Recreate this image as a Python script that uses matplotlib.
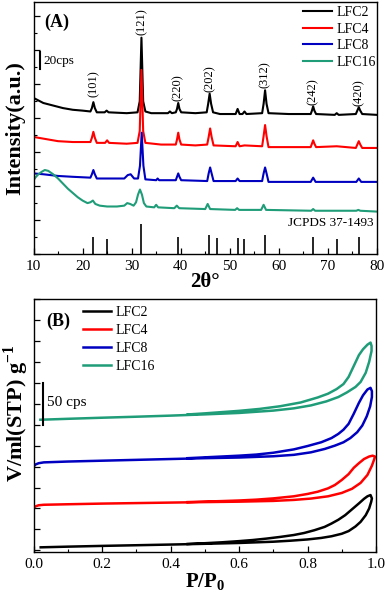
import matplotlib
matplotlib.use("Agg")
import matplotlib.pyplot as plt
from matplotlib.ticker import MultipleLocator

plt.rcParams['font.family'] = ['Liberation Serif', 'DejaVu Serif']
plt.rcParams['mathtext.fontset'] = 'custom'
plt.rcParams['mathtext.rm'] = 'Liberation Serif'
plt.rcParams['mathtext.bf'] = 'Liberation Serif:bold'

samples = ['LFC2', 'LFC4', 'LFC8', 'LFC16']
colors = ['#000000', '#ff0000', '#0000c0', '#1f9c78']

# ---- (A) XRD patterns, 2theta vs intensity (cps, stacked) ----
xrd_lfc2 = [(10, 184), (11, 181), (12, 178), (14, 175), (16, 172), (18, 170), (20, 169),
            (21.6, 168), (21.9, 172), (22.2, 179), (22.5, 172), (22.9, 167), (24.5, 167),
            (24.9, 169), (25.3, 167), (29, 166), (31.2, 167), (31.65, 180), (32.0, 255),
            (32.35, 180), (32.8, 168), (34, 166), (37.4, 166), (37.8, 168), (38.2, 166),
            (39.0, 167), (39.25, 171), (39.5, 178), (39.75, 171), (40.1, 167), (43, 166),
            (45.3, 167), (45.6, 177), (45.9, 189), (46.2, 177), (46.6, 167), (48, 165),
            (51.2, 165), (51.6, 171), (52.0, 165), (52.6, 165), (53.0, 168), (53.4, 165),
            (56.6, 166), (56.9, 177), (57.2, 193), (57.5, 177), (57.9, 166), (62, 165),
            (66.5, 165), (66.75, 169), (67.0, 174), (67.25, 169), (67.6, 165), (71.4, 164),
            (71.8, 166), (72.2, 164), (75.7, 165), (76.0, 169), (76.3, 173), (76.6, 169),
            (77.0, 165), (80, 164)]
xrd_lfc4 = [(10, 138), (12, 136), (15, 133), (18, 132), (21.6, 132), (21.9, 137), (22.2, 144),
            (22.5, 137), (22.9, 131), (24.6, 131), (25.0, 134), (25.4, 131), (29, 130),
            (31.2, 131), (31.65, 145), (32.0, 217), (32.35, 145), (32.8, 131), (36, 129),
            (39.0, 129), (39.25, 135), (39.5, 143), (39.75, 135), (40.1, 129), (43, 128),
            (45.4, 129), (45.7, 138), (46.0, 148), (46.3, 138), (46.7, 128), (51.2, 127),
            (51.6, 132), (52.0, 127), (53, 128), (56.6, 127), (56.9, 139), (57.2, 152),
            (57.5, 139), (57.9, 126), (62, 126), (66.5, 126), (66.75, 130), (67.0, 134),
            (67.25, 130), (67.6, 126), (71.8, 127), (75.7, 125), (76.0, 129), (76.3, 133),
            (76.6, 129), (77.0, 125), (80, 125)]
xrd_lfc8 = [(10, 95), (12, 94), (15, 92), (18, 91), (21.6, 90), (21.9, 94), (22.2, 99),
            (22.5, 94), (22.9, 89), (25, 89), (28.5, 89), (29.2, 93), (29.8, 94), (30.5, 89),
            (31.3, 89), (31.7, 104), (32.05, 143), (32.4, 104), (32.8, 88), (35, 87),
            (35.3, 89), (35.6, 87), (39.0, 87), (39.25, 91), (39.5, 95), (39.75, 91),
            (40.1, 87), (45.4, 86), (45.7, 95), (46.0, 102), (46.3, 95), (46.7, 86),
            (51.2, 86), (51.6, 89), (52.0, 86), (56.6, 86), (56.9, 95), (57.2, 102),
            (57.5, 95), (57.9, 85), (66.5, 85), (67.0, 90), (67.5, 85), (75.8, 85),
            (76.3, 89), (76.8, 85), (80, 85)]
xrd_lfc16 = [(10, 87), (10.5, 91), (11, 94), (11.7, 97), (12.3, 99), (13, 98), (14, 94),
             (15, 89), (16, 83), (17, 77), (18, 72), (19, 67), (20, 63), (21, 60), (21.6, 61),
             (22.1, 63), (22.6, 59), (23.5, 57), (25, 56), (27, 56), (28.5, 57), (29.1, 60),
             (29.7, 59), (30.4, 57), (30.9, 61), (31.3, 70), (31.7, 76), (32.1, 70),
             (32.5, 60), (33, 56), (34.6, 55), (35.0, 58), (35.4, 55), (38.7, 54), (39.2, 57),
             (39.7, 54), (45.0, 53), (45.5, 59), (46.0, 53), (51.1, 52), (51.5, 54),
             (51.9, 52), (56.4, 52), (56.9, 58), (57.4, 52), (66.6, 51), (67.0, 53),
             (67.4, 51), (75.8, 51), (76.2, 52), (76.6, 51), (80, 50)]
xrd_data = [xrd_lfc2, xrd_lfc4, xrd_lfc8, xrd_lfc16]

hkl_labels = ['(101)', '(121)', '(220)', '(202)', '(312)', '(242)', '(420)']
hkl_pos = [22.2, 32.0, 39.5, 45.9, 57.2, 67.0, 76.3]
hkl_y = [185, 258, 180, 191, 196, 176, 175]

# JCPDS 37-1493 reference lines
ref_pos = [22.2, 24.9, 32.0, 39.4, 45.8, 47.3, 51.6, 52.9, 57.1, 67.0, 71.8, 76.3]
ref_int = [20, 17.5, 35, 20, 22, 19, 19, 17.5, 23, 20, 17.5, 20]

# ---- (B) N2 isotherms, P/P0 vs V (stacked): adsorption then desorption ----
bet_lfc2 = [(0.021, 3.6), (0.1, 4.4), (0.2, 5.3), (0.3, 6.1), (0.4, 6.9), (0.5, 7.8),
            (0.6, 8.8), (0.7, 10.3), (0.75, 11.5), (0.8, 13), (0.84, 14.8), (0.87, 16.8),
            (0.9, 19.8), (0.92, 23), (0.94, 28.5), (0.955, 34), (0.97, 42), (0.98, 50),
            (0.986, 58), (0.988, 62), (0.984, 66), (0.975, 64.5), (0.965, 61.5),
            (0.95, 56), (0.93, 49), (0.91, 42), (0.89, 36.5), (0.87, 32), (0.85, 28),
            (0.82, 24), (0.79, 20.7), (0.76, 18.3), (0.72, 16), (0.68, 14), (0.64, 12.3),
            (0.6, 11), (0.55, 9.6), (0.5, 8.5), (0.45, 7.6)]
bet_lfc4 = [(0.0, 50.3), (0.006, 52.5), (0.015, 53.8), (0.03, 54.4), (0.1, 55), (0.2, 55.8),
            (0.3, 56.4), (0.4, 57), (0.5, 57.6), (0.6, 58.1), (0.7, 59), (0.76, 60.2),
            (0.81, 61.8), (0.86, 64.5), (0.9, 68.5), (0.93, 73.5), (0.955, 80.5),
            (0.975, 90), (0.988, 101), (0.995, 109), (0.997, 112), (0.99, 113),
            (0.98, 112), (0.965, 109), (0.95, 104), (0.935, 98.5), (0.92, 91), (0.9, 84),
            (0.88, 78), (0.86, 74), (0.83, 70), (0.8, 67.3), (0.76, 64.5), (0.7, 62),
            (0.65, 60.5), (0.6, 59.5), (0.55, 58.8), (0.5, 58.2), (0.45, 57.6)]
bet_lfc8 = [(0.0, 100), (0.006, 102.5), (0.015, 104), (0.03, 105), (0.1, 106), (0.2, 107),
            (0.3, 108), (0.4, 109), (0.5, 110), (0.6, 110.8), (0.7, 112.3), (0.76, 114),
            (0.81, 117), (0.85, 121), (0.88, 125), (0.905, 129), (0.925, 134), (0.945, 141),
            (0.96, 149), (0.973, 160), (0.983, 172), (0.988, 183), (0.988, 190),
            (0.984, 194), (0.975, 192), (0.962, 185), (0.95, 176), (0.935, 163),
            (0.92, 151), (0.905, 144), (0.89, 139), (0.87, 134), (0.84, 129), (0.8, 124.5),
            (0.76, 120.5), (0.7, 116.5), (0.65, 114.3), (0.6, 113), (0.55, 112),
            (0.5, 111), (0.45, 110)]
bet_lfc16 = [(0.02, 155.9), (0.1, 157), (0.2, 158.3), (0.3, 159.5), (0.4, 160.8),
             (0.5, 162.3), (0.6, 164), (0.7, 166.8), (0.76, 169.5), (0.81, 173),
             (0.855, 177.8), (0.89, 183), (0.915, 188.5), (0.94, 195), (0.955, 201),
             (0.97, 212), (0.98, 225), (0.987, 238), (0.987, 244), (0.984, 248),
             (0.975, 245.5), (0.962, 240), (0.95, 233), (0.935, 220), (0.92, 207),
             (0.905, 198.5), (0.885, 192.5), (0.86, 187), (0.83, 182.5), (0.78, 176.5),
             (0.72, 172), (0.66, 168.8), (0.6, 166.5), (0.55, 165), (0.5, 163.5),
             (0.45, 162.2)]
bet_data = [bet_lfc2, bet_lfc4, bet_lfc8, bet_lfc16]

fig = plt.figure(figsize=(3.87, 5.96), dpi=100)
axA = fig.add_axes([0.0866, 0.5738, 0.8874, 0.4228])
axB = fig.add_axes([0.0866, 0.0738, 0.8850, 0.4245])

for ax in (axA, axB):
    for sp in ax.spines.values():
        sp.set_linewidth(1.0)
    ax.tick_params(which='both', direction='in', top=False, right=False, labelsize=11, pad=4)
    ax.tick_params(which='major', length=4, width=0.9)
    ax.tick_params(which='minor', length=2.5, width=0.8)

# panel A
for pts, c, lab in zip(xrd_data, colors, samples):
    axA.plot([p[0] for p in pts], [p[1] for p in pts], color=c, lw=1.5, label=lab,
             solid_joinstyle='round')
axA.vlines(ref_pos, 0, ref_int, color='black', lw=1.2)
for lab, x, y in zip(hkl_labels, hkl_pos, hkl_y):
    axA.text(x, y, lab, rotation=90, ha='center', va='bottom', fontsize=9)
axA.text(79.3, 37, 'JCPDS 37-1493', ha='right', va='center', fontsize=9.5)
axA.plot([11.3, 11.3], [218, 238], color='black', lw=1.5)
axA.text(12.0, 228, '20cps', ha='left', va='center', fontsize=9.5)
axA.text(0.031, 0.919, '(A)', transform=axA.transAxes, fontsize=13, fontweight='bold',
         ha='left', va='center')
axA.set_xlim(10, 80)
axA.set_ylim(0, 297)
axA.xaxis.set_major_locator(MultipleLocator(10))
axA.xaxis.set_minor_locator(MultipleLocator(5))
axA.yaxis.set_major_locator(MultipleLocator(40))
axA.yaxis.set_minor_locator(MultipleLocator(20))
axA.set_yticklabels([])
axA.set_xlabel('2θ°', fontsize=15, fontweight='bold')
axA.xaxis.set_label_coords(0.5, -0.111)
axA.xaxis.label.set_va('center')
axA.set_ylabel('Intensity(a.u.)', fontsize=16, fontweight='bold')
axA.yaxis.set_label_coords(-0.054, 0.5)
axA.yaxis.label.set_va('center')
axA.legend(loc='upper left', bbox_to_anchor=(0.784, 0.983), frameon=False, fontsize=10,
           handlelength=2.1, handletextpad=0.3, labelspacing=0.25, borderpad=0,
           borderaxespad=0)

# panel B
for pts, c, lab in zip(bet_data, colors, samples):
    axB.plot([p[0] for p in pts], [p[1] for p in pts], color=c, lw=1.8, label=lab,
             solid_joinstyle='round')
axB.plot([0.029, 0.029], [150, 200], color='black', lw=1.5)
axB.text(0.0385, 176, '50 cps', ha='left', va='center', fontsize=11)
axB.text(0.036, 0.911, '(B)', transform=axB.transAxes, fontsize=13, fontweight='bold',
         ha='left', va='center')
axB.set_xlim(0, 1.0)
axB.set_ylim(-2, 300)
axB.xaxis.set_major_locator(MultipleLocator(0.2))
axB.xaxis.set_minor_locator(MultipleLocator(0.1))
axB.yaxis.set_major_locator(MultipleLocator(25))
axB.set_yticklabels([])
axB.set_xlabel(r'P/P$_\mathbf{0}$', fontsize=15, fontweight='bold')
axB.xaxis.set_label_coords(0.5, -0.119)
axB.xaxis.label.set_va('center')
axB.set_ylabel(r'V/ml(STP) g$^\mathbf{-1}$', fontsize=16, fontweight='bold')
axB.yaxis.set_label_coords(-0.051, 0.55)
axB.yaxis.label.set_va('center')
axB.legend(loc='upper left', bbox_to_anchor=(0.1445, 0.974), frameon=False, fontsize=10,
           handlelength=2.0, handletextpad=0.35, labelspacing=0.36, borderpad=0,
           borderaxespad=0)

fig.savefig('out.png', dpi=100)
